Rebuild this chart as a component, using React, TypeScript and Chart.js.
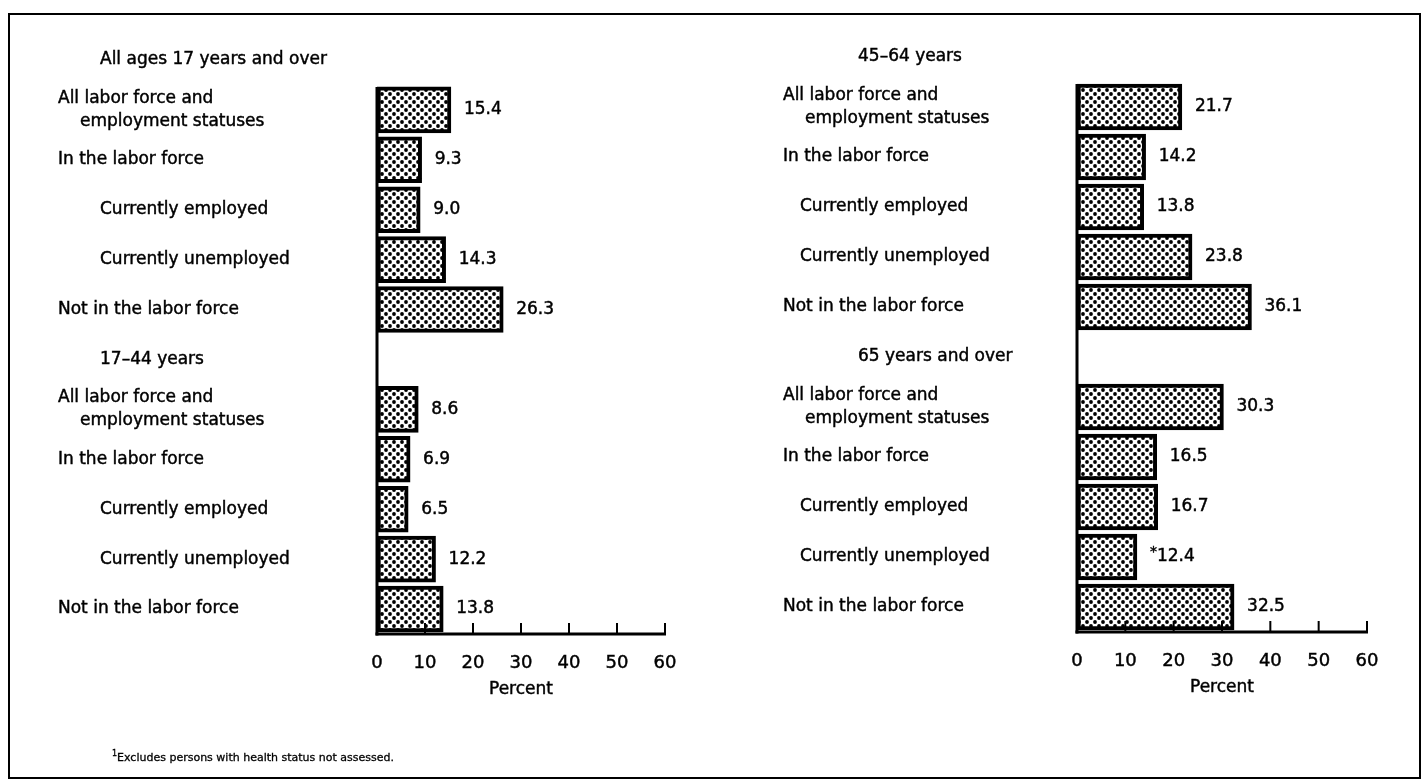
import React, { useEffect, useRef } from 'react';
import { Chart, registerables } from 'chart.js';

Chart.register(...registerables);

// ---------- data ----------
const leftCategories = [
  'All ages 17 years and over',
  'All labor force and|employment statuses',
  'In the labor force',
  'Currently employed',
  'Currently unemployed',
  'Not in the labor force',
  '17–44 years',
  'All labor force and|employment statuses',
  'In the labor force',
  'Currently employed',
  'Currently unemployed',
  'Not in the labor force',
];
const rightCategories = [
  '45–64 years',
  'All labor force and|employment statuses',
  'In the labor force',
  'Currently employed',
  'Currently unemployed',
  'Not in the labor force',
  '65 years and over',
  'All labor force and|employment statuses',
  'In the labor force',
  'Currently employed',
  'Currently unemployed',
  'Not in the labor force',
];
const rowLevels = ['header', 'main', 'main', 'sub', 'sub', 'main', 'header', 'main', 'main', 'sub', 'sub', 'main'];

const leftValues = [null, 15.4, 9.3, 9.0, 14.3, 26.3, null, 8.6, 6.9, 6.5, 12.2, 13.8];
const rightValues = [null, 21.7, 14.2, 13.8, 23.8, 36.1, null, 30.3, 16.5, 16.7, 12.4, 32.5];
const leftMarks = ['', '', '', '', '', '', '', '', '', '', '', ''];
const rightMarks = ['', '', '', '', '', '', '', '', '', '', '*', ''];

const axisMin = 0;
const axisMax = 60;
const axisStep = 10;
const axisTitle = 'Percent';
const footnote = 'Excludes persons with health status not assessed.';

// ---------- styling ----------
const FONT = '"DejaVu Sans", "Liberation Sans", sans-serif';
const BAR_THICK = 46;
const TEXT_STROKE = 0.45;

function makePattern(): CanvasPattern | string {
  const c = document.createElement('canvas');
  c.width = 8;
  c.height = 8;
  const g = c.getContext('2d');
  if (!g) return '#888';
  g.fillStyle = '#fff';
  g.fillRect(0, 0, 8, 8);
  g.fillStyle = '#000';
  g.beginPath();
  g.arc(2, 2, 1.9, 0, Math.PI * 2);
  g.fill();
  g.beginPath();
  g.arc(6, 6, 1.9, 0, Math.PI * 2);
  g.fill();
  return g.createPattern(c, 'repeat') || '#888';
}

type Indents = { header: number; main: number; sub: number; wrap: number };

function drawText(ctx: CanvasRenderingContext2D, s: string, x: number, y: number) {
  ctx.fillText(s, x, y);
  ctx.strokeText(s, x, y);
}

function makeDecor(cats: string[], levels: string[], values: (number | null)[], marks: string[], indents: Indents) {
  return {
    id: 'panelDecor',
    afterDatasetsDraw(chart: any) {
      const ctx: CanvasRenderingContext2D = chart.ctx;
      const xs = chart.scales.x;
      const ys = chart.scales.y;
      const left = xs.getPixelForValue(axisMin);
      const right = xs.getPixelForValue(axisMax);
      const bottom = chart.chartArea.bottom;
      ctx.save();
      ctx.strokeStyle = '#000';
      ctx.fillStyle = '#000';
      // vertical axis line (from first bar down)
      const firstIdx = values.findIndex((v) => v != null);
      const firstTop = ys.getPixelForValue(firstIdx) - BAR_THICK / 2;
      ctx.lineWidth = 3;
      ctx.beginPath();
      ctx.moveTo(left, firstTop);
      ctx.lineTo(left, bottom + 1.5);
      ctx.stroke();
      // horizontal axis line
      ctx.beginPath();
      ctx.moveTo(left - 1.5, bottom);
      ctx.lineTo(right + 1, bottom);
      ctx.stroke();
      // tick marks pointing up
      ctx.lineWidth = 2;
      ctx.beginPath();
      xs.ticks.forEach((t: any) => {
        if (t.value === axisMin) return;
        const px = xs.getPixelForValue(t.value);
        ctx.moveTo(px, bottom);
        ctx.lineTo(px, bottom - 11);
      });
      ctx.stroke();
      // category labels
      ctx.lineWidth = TEXT_STROKE;
      ctx.font = `17px ${FONT}`;
      ctx.textBaseline = 'middle';
      ctx.textAlign = 'left';
      cats.forEach((c, i) => {
        const lines = c.split('|');
        const cy = ys.getPixelForValue(i);
        const ind = (indents as any)[levels[i]] as number;
        lines.forEach((ln, j) => {
          const lx = left + ind + (j > 0 ? indents.wrap : 0);
          const ly = cy + (j - (lines.length - 1) / 2) * 23;
          drawText(ctx, ln, lx, ly);
        });
      });
      // value labels
      const meta = chart.getDatasetMeta(0);
      meta.data.forEach((bar: any, i: number) => {
        const v = values[i];
        if (v == null) return;
        let tx = bar.x + 13;
        const mk = marks[i];
        if (mk) {
          ctx.font = `14px ${FONT}`;
          drawText(ctx, mk, tx, bar.y - 5);
          tx += ctx.measureText(mk).width;
        }
        ctx.font = `17px ${FONT}`;
        drawText(ctx, v.toFixed(1), tx, bar.y);
      });
      // axis title
      ctx.textAlign = 'center';
      ctx.font = `17px ${FONT}`;
      drawText(ctx, axisTitle, (left + right) / 2, bottom + 56);
      ctx.restore();
    },
  };
}

type PanelProps = {
  cats: string[];
  values: (number | null)[];
  marks: string[];
  canvasLeft: number;
  canvasWidth: number;
  padLeft: number;
  padRight: number;
  padTop: number;
  chartBottom: number;
  indents: Indents;
};

function Panel(p: PanelProps) {
  const ref = useRef<HTMLCanvasElement | null>(null);
  useEffect(() => {
    if (!ref.current) return;
    const H = 782;
    const xHeight = 70;
    const chart = new Chart(ref.current, {
      type: 'bar',
      data: {
        labels: p.cats,
        datasets: [
          {
            data: p.values as any,
            backgroundColor: makePattern() as any,
            borderColor: '#000',
            borderWidth: 4,
            borderSkipped: false,
            barThickness: BAR_THICK,
          } as any,
        ],
      },
      plugins: [makeDecor(p.cats, rowLevels, p.values, p.marks, p.indents)],
      options: {
        indexAxis: 'y',
        responsive: false,
        animation: false,
        events: [],
        layout: {
          padding: { left: p.padLeft, right: p.padRight, top: p.padTop, bottom: H - p.chartBottom - xHeight },
        },
        plugins: { legend: { display: false }, tooltip: { enabled: false }, title: { display: false } },
        scales: {
          y: { type: 'category', display: false, offset: true },
          x: {
            type: 'linear',
            min: axisMin,
            max: axisMax,
            ticks: {
              stepSize: axisStep,
              color: '#000',
              font: { family: FONT, size: 18 },
              padding: 19,
              maxRotation: 0,
              autoSkip: false,
              textStrokeColor: '#000',
              textStrokeWidth: TEXT_STROKE,
            },
            grid: { display: false, drawTicks: false },
            border: { display: false },
            title: { display: false },
            afterFit(s: any) {
              s.height = xHeight;
            },
          },
        },
      } as any,
    });
    return () => chart.destroy();
  }, []);
  return (
    <canvas
      ref={ref}
      width={p.canvasWidth}
      height={782}
      style={{ position: 'absolute', left: p.canvasLeft, top: 0, width: p.canvasWidth, height: 782 }}
    />
  );
}

export default function App() {
  return (
    <div style={{ position: 'fixed', left: 0, top: 0, width: 1427, height: 782, background: '#fff', overflow: 'hidden' }}>
      <div
        style={{
          position: 'absolute',
          left: 8,
          top: 13,
          width: 1413,
          height: 766,
          border: '2px solid #000',
          boxSizing: 'border-box',
        }}
      />
      <Panel
        cats={leftCategories}
        values={leftValues}
        marks={leftMarks}
        canvasLeft={0}
        canvasWidth={713}
        padLeft={377}
        padRight={48}
        padTop={35}
        chartBottom={634}
        indents={{ header: -277, main: -319, sub: -277, wrap: 22 }}
      />
      <Panel
        cats={rightCategories}
        values={rightValues}
        marks={rightMarks}
        canvasLeft={713}
        canvasWidth={714}
        padLeft={364}
        padRight={60}
        padTop={32}
        chartBottom={632}
        indents={{ header: -219, main: -294, sub: -277, wrap: 22 }}
      />
      <div
        style={{
          position: 'absolute',
          left: 112,
          top: 749,
          fontFamily: FONT,
          fontSize: 11,
          color: '#000',
          whiteSpace: 'nowrap',
          WebkitTextStroke: '0.3px #000',
        }}
      >
        <sup style={{ fontSize: 8 }}>1</sup>
        {footnote}
      </div>
    </div>
  );
}
